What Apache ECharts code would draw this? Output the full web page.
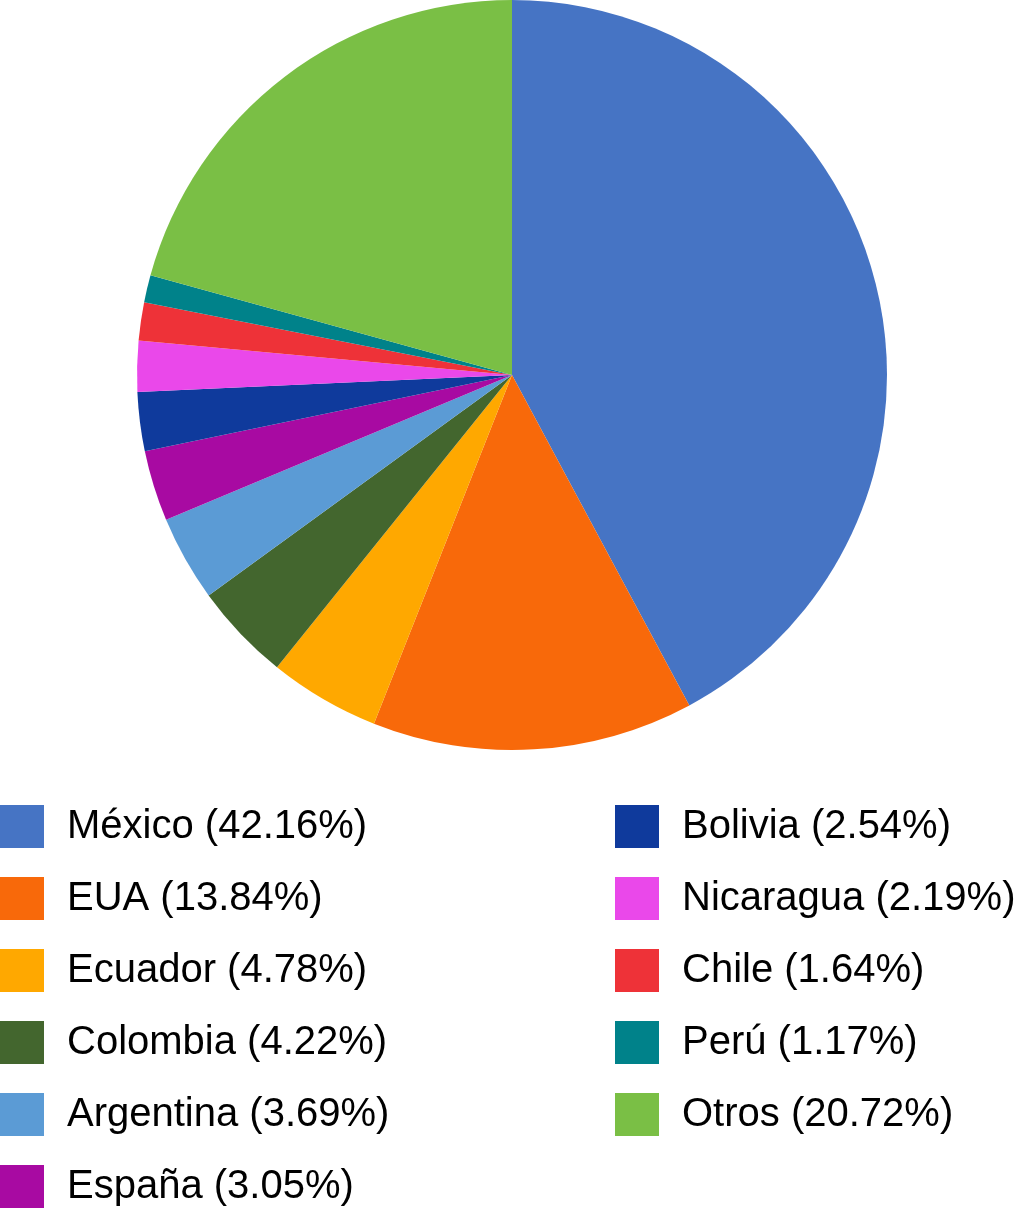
<!DOCTYPE html>
<html><head><meta charset="utf-8">
<script src="https://cdn.jsdelivr.net/npm/echarts@6/dist/echarts.min.js"></script>
<style>html,body{margin:0;padding:0;background:#fff}#c{width:1024px;height:1225px}</style>
</head><body><div id="c"></div>
<script>
const countries = ['México','EUA','Ecuador','Colombia','Argentina','España','Bolivia','Nicaragua','Chile','Perú','Otros'];
const shares = [42.16,13.84,4.78,4.22,3.69,3.05,2.54,2.19,1.64,1.17,20.72];
const colors = ['#4674C4','#F8690A','#FFA800','#43662E','#5B9BD5','#A80AA2','#0F3A9C','#EA48EA','#EE3238','#00828A','#7ABF45'];

const valueOf = {};
countries.forEach((c,i)=>valueOf[c]=shares[i].toFixed(2));
const legendCommon = {
  orient:'vertical', icon:'rect', itemWidth:44, itemHeight:43, itemGap:29,
  selectedMode:false, padding:0, height:420,
  textStyle:{fontFamily:'Liberation Sans', fontSize:40, color:'#000', padding:[0,0,0,18]},
  formatter: n => n + ' (' + valueOf[n] + '%)'
};
const chart = echarts.init(document.getElementById('c'), null, {renderer:'canvas'});
chart.setOption({
  animation:false,
  color: colors,
  legend:[
    Object.assign({}, legendCommon, {left:0, top:805, data:countries.slice(0,6)}),
    Object.assign({}, legendCommon, {left:615, top:805, data:countries.slice(6)})
  ],
  series:[{
    type:'pie', center:[512,375], radius:[0,375], startAngle:90, clockwise:true,
    label:{show:false}, labelLine:{show:false}, emphasis:{disabled:true},
    itemStyle:{borderWidth:0},
    data: countries.map((c,i)=>({name:c, value:shares[i]}))
  }]
});
</script></body></html>
